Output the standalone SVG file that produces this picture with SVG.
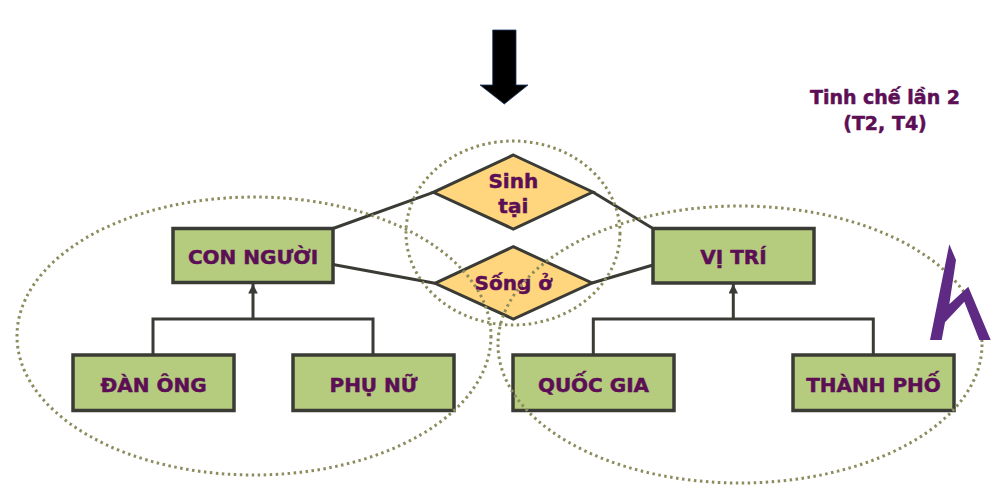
<svg xmlns="http://www.w3.org/2000/svg" width="1006" height="497" viewBox="0 0 1006 497">
<style>
.box{fill:#B5CC7F;stroke:#3B3B36;stroke-width:3.5}
.dia{fill:#FFD57E;stroke:#3B3B36;stroke-width:3}
.ln{fill:none;stroke:#3B3B36;stroke-width:3}
.dot{fill:none;stroke:#8C8C5E;stroke-width:3;stroke-dasharray:2.5 3.5}
.t{font-family:"DejaVu Sans","Liberation Sans",sans-serif;font-weight:bold;font-size:20px;fill:#5C0F55;stroke:#5C0F55;stroke-width:0.5;text-anchor:middle}
</style>
<defs>
<marker id="ah" viewBox="0 0 10 10" refX="10" refY="5" markerWidth="3.2" markerHeight="3.2" orient="auto" markerUnits="strokeWidth">
<path d="M0,0 L10,5 L0,10 Z" fill="#3B3B36"/>
</marker>
</defs>
<rect width="1006" height="497" fill="#FFFFFF"/>

<g id="arrow-down">
<path d="M492.7,30 L516,30 L516,85 L528,85 L504.3,104 L480,85 L492.7,85 Z" fill="#000000" stroke="#1F3864" stroke-width="0.8"/>
</g>

<g id="title">
<text class="t" x="885" y="104" style="font-size:19px">Tinh chế lần 2</text>
<text class="t" x="885" y="129.5" style="font-size:19px">(T2, T4)</text>
</g>

<g id="connectors">
<line class="ln" x1="333" y1="228.5" x2="433.3" y2="192.3"/>
<line class="ln" x1="333" y1="264.5" x2="435" y2="283.3"/>
<line class="ln" x1="592.7" y1="192" x2="653" y2="228.5"/>
<line class="ln" x1="592" y1="283" x2="653" y2="265"/>
<polyline class="ln" points="153,355 153,319 373,319 373,355"/>
<line class="ln" x1="253" y1="319" x2="253" y2="284" marker-end="url(#ah)"/>
<polyline class="ln" points="593.3,355 593.3,319 873.3,319 873.3,355"/>
<line class="ln" x1="733.3" y1="319" x2="733.3" y2="284" marker-end="url(#ah)"/>
</g>

<g id="con-nguoi">
<rect class="box" x="173" y="228.5" width="160" height="54"/>
<text class="t" x="253" y="264">CON NGƯỜI</text>
</g>
<g id="dan-ong">
<rect class="box" x="73" y="355" width="161" height="55.5"/>
<text class="t" x="153.5" y="391.5">ĐÀN ÔNG</text>
</g>
<g id="phu-nu">
<rect class="box" x="293" y="355" width="161" height="55.5"/>
<text class="t" x="373.5" y="391.5">PHỤ NỮ</text>
</g>
<g id="vi-tri">
<rect class="box" x="653" y="228.5" width="161" height="54.5"/>
<text class="t" x="733.5" y="263.5">VỊ TRÍ</text>
</g>
<g id="quoc-gia">
<rect class="box" x="513" y="355" width="161" height="55.5"/>
<text class="t" x="593.5" y="391.5">QUỐC GIA</text>
</g>
<g id="thanh-pho">
<rect class="box" x="793" y="355" width="161" height="55.5"/>
<text class="t" x="873.5" y="391.5">THÀNH PHỐ</text>
</g>
<g id="sinh-tai">
<polygon class="dia" points="513.3,155 592.7,192 513.3,229 433.3,192.3"/>
<text class="t" x="513.3" y="187.7">Sinh</text>
<text class="t" x="513.3" y="212.7">tại</text>
</g>
<g id="song-o">
<polygon class="dia" points="513.3,246.7 592,283 513.3,319 435,283.3"/>
<text class="t" x="513.3" y="290">Sống ở</text>
</g>

<g id="groups">
<ellipse class="dot" cx="513" cy="233" rx="107" ry="92"/>
<ellipse class="dot" cx="254" cy="336" rx="237" ry="139"/>
<ellipse class="dot" cx="740" cy="344.5" rx="242" ry="138.5"/>
</g>

<g id="lightning">
<polygon points="949.3,244.3 956,260 949.3,304.3 968.3,286.7 990.7,340 979.3,340 964.3,301.7 945,322.3 941.7,340 930,340" fill="#5E2A84"/>
</g>
</svg>
